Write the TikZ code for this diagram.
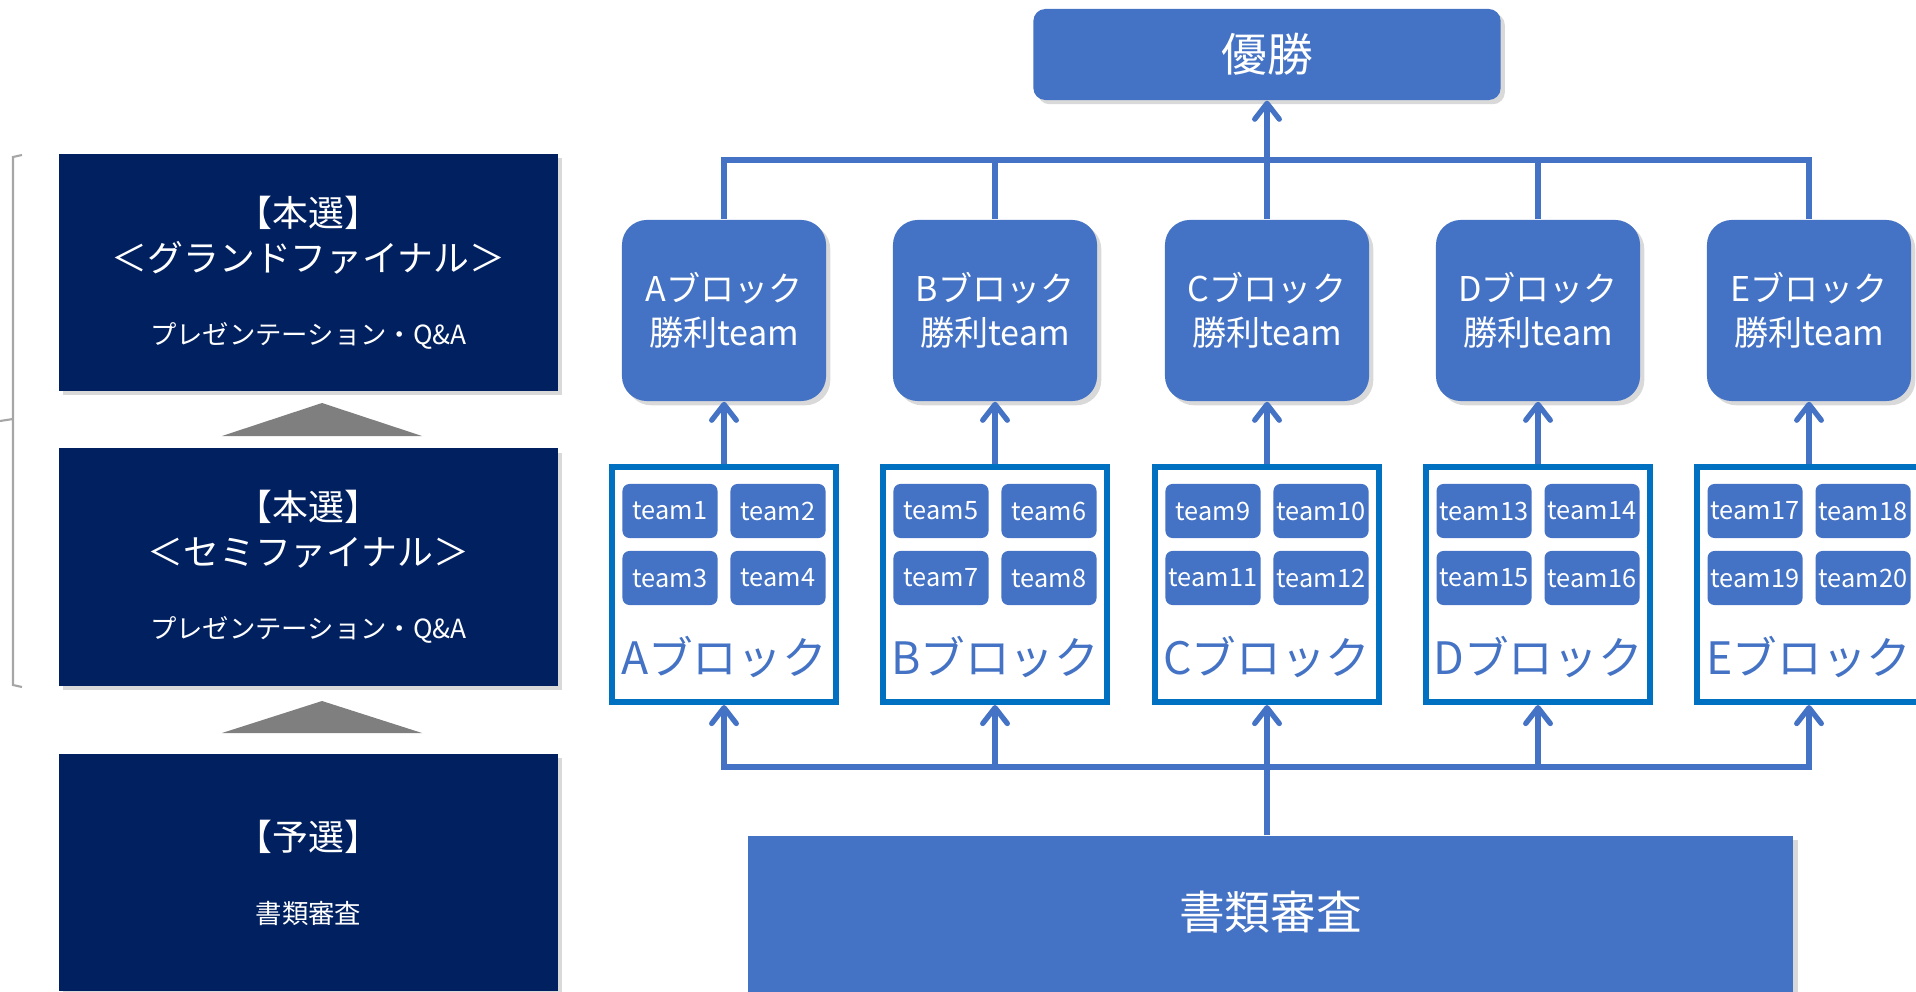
\documentclass[tikz,border=0pt]{standalone}
\usepackage{fontspec}
\setmainfont{Noto Sans CJK JP}
\usetikzlibrary{arrows.meta,shadows}

\definecolor{stagenavy}{HTML}{002060}
\definecolor{boxblue}{HTML}{4472C4}
\definecolor{rimblue}{HTML}{0070C0}
\definecolor{trigray}{HTML}{7F7F7F}
\definecolor{bracketgray}{HTML}{A6A6A6}

\tikzstyle{stage}=[rectangle,fill=stagenavy,text=white,minimum width=4.99cm,minimum height=2.37cm,align=center,font=\fontsize{10.2}{12.8}\selectfont,drop shadow={shadow xshift=1.2pt,shadow yshift=-1.2pt,opacity=0.3}]
\tikzstyle{winner}=[rectangle,rounded corners=0.25cm,fill=boxblue,text=white,minimum width=2.04cm,minimum height=1.81cm,align=center,font=\fontsize{9.7}{12.5}\selectfont,drop shadow={shadow xshift=1.2pt,shadow yshift=-1.2pt,opacity=0.3}]
\tikzstyle{block}=[rectangle,draw=rimblue,line width=1.7pt,minimum width=2.23cm,minimum height=2.35cm]
\tikzstyle{team}=[rectangle,rounded corners=0.07cm,fill=boxblue,text=white,minimum width=0.95cm,minimum height=0.54cm,inner sep=0pt,font=\fontsize{7.2}{8}\selectfont]
\tikzstyle{blocklabel}=[text=boxblue,inner sep=0pt,font=\fontsize{12.7}{14}\selectfont]
\tikzstyle{link}=[draw=boxblue,line width=1.5pt]
\tikzstyle{uparrow}=[link,-{Straight Barb[round,length=4.5pt,width=7pt]}]

\begin{document}
\begin{tikzpicture}[x=0.01cm,y=-0.01cm]
		\useasboundingbox (0,0) rectangle (1916,991);
		\clip (0,0) rectangle (1916,991);
		% the stages on the left
		\node[stage] (gf) at (308.5,272.5) {【本選】\\＜グランドファイナル＞\\[8pt]{\fontsize{7.5}{9}\selectfont プレゼンテーション・Q\&A}};
		\node[stage] (sf) at (308.5,567) {【本選】\\＜セミファイナル＞\\[8pt]{\fontsize{7.5}{9}\selectfont プレゼンテーション・Q\&A}};
		\node[stage] (pre) at (308.5,872.5) {【予選】\\[8pt]{\fontsize{7.5}{9}\selectfont 書類審査}};
		\fill[trigray] (222,436) -- (322,403) -- (422,436) -- cycle;
		\fill[trigray] (222,733) -- (322,701) -- (422,733) -- cycle;
		\draw[bracketgray,line width=0.6pt] (22,155) -- (13,157) -- (13,685) -- (22,687);
		\draw[bracketgray,line width=0.6pt] (13,419) -- (0,421);
		% winner of all
		\node[winner,rounded corners=0.12cm,minimum width=4.67cm,minimum height=0.91cm,font=\fontsize{13}{15}\selectfont] (champ) at (1267,54.5) {\raisebox{1pt}{優勝}};
		% block winners
		\node[winner] (wA) at (724,310.5) {Aブロック\\勝利team};
		\node[winner] (wB) at (995,310.5) {Bブロック\\勝利team};
		\node[winner] (wC) at (1267,310.5) {Cブロック\\勝利team};
		\node[winner] (wD) at (1538,310.5) {Dブロック\\勝利team};
		\node[winner] (wE) at (1809,310.5) {Eブロック\\勝利team};
		% blocks
		\node[block] (bA) at (724,584.5) {};
		\node[block] (bB) at (995,584.5) {};
		\node[block] (bC) at (1267,584.5) {};
		\node[block] (bD) at (1538,584.5) {};
		\node[block] (bE) at (1809,584.5) {};
		\node[blocklabel] (lA) at (724,657) {Aブロック};
		\node[blocklabel] (lB) at (995,657) {Bブロック};
		\node[blocklabel] (lC) at (1267,657) {Cブロック};
		\node[blocklabel] (lD) at (1538,657) {Dブロック};
		\node[blocklabel] (lE) at (1809,657) {Eブロック};
		% teams
		\node[team] (t1) at (670,511) {team1};
		\node[team] (t2) at (778,511) {team2};
		\node[team] (t3) at (670,578) {team3};
		\node[team] (t4) at (778,578) {team4};
		\node[team] (t5) at (941,511) {team5};
		\node[team] (t6) at (1049,511) {team6};
		\node[team] (t7) at (941,578) {team7};
		\node[team] (t8) at (1049,578) {team8};
		\node[team] (t9) at (1213,511) {team9};
		\node[team] (t10) at (1321,511) {team10};
		\node[team] (t11) at (1213,578) {team11};
		\node[team] (t12) at (1321,578) {team12};
		\node[team] (t13) at (1484,511) {team13};
		\node[team] (t14) at (1592,511) {team14};
		\node[team] (t15) at (1484,578) {team15};
		\node[team] (t16) at (1592,578) {team16};
		\node[team] (t17) at (1755,511) {team17};
		\node[team] (t18) at (1863,511) {team18};
		\node[team] (t19) at (1755,578) {team19};
		\node[team] (t20) at (1863,578) {team20};
		% document screening
		\node[rectangle,fill=boxblue,text=white,minimum width=10.45cm,minimum height=1.64cm,font=\fontsize{13}{15}\selectfont,drop shadow={shadow xshift=1.2pt,shadow yshift=-1.2pt,opacity=0.3}] (doc) at (1270.5,918) {\raisebox{4.5pt}{書類審査}};
		% connectors
		\coordinate (jt) at (1267,160);
		\coordinate (jb) at (1267,767);
		\draw[link] (wA.north) |- (jt) -| (wE.north);
		\draw[link] (wB.north) |- (jt);
		\draw[link] (wD.north) |- (jt);
		\draw[uparrow] (wC.north) -- (champ.south);
		\draw[uparrow] (bA.north) -- (wA.south);
		\draw[uparrow] (bB.north) -- (wB.south);
		\draw[uparrow] (bC.north) -- (wC.south);
		\draw[uparrow] (bD.north) -- (wD.south);
		\draw[uparrow] (bE.north) -- (wE.south);
		\draw[uparrow] (jb) -| (bA.south);
		\draw[uparrow] (jb) -| (bB.south);
		\draw[uparrow] (jb) -| (bD.south);
		\draw[uparrow] (jb) -| (bE.south);
		\draw[uparrow] (doc.north -| bC.south) -- (bC.south);
\end{tikzpicture}
\end{document}
